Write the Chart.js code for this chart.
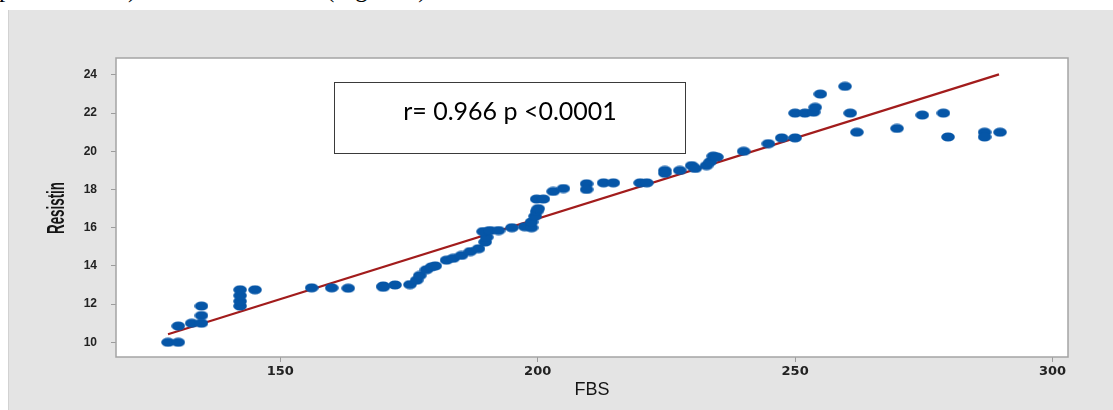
<!DOCTYPE html>
<html>
<head>
<meta charset="utf-8">
<title>Resistin vs FBS</title>
<script src="https://cdn.jsdelivr.net/npm/chart.js@4.4.1/dist/chart.umd.min.js"></script>
<style>
  html, body { margin: 0; padding: 0; background: #fff; width: 1113px; height: 410px; overflow: hidden; }
  #prev { position: absolute; left: 0; top: 0; width: 1113px; height: 10px; overflow: hidden;
          font-family: "Liberation Serif", "Times New Roman", serif; font-size: 25px; color: #000; }
  #prev span { position: absolute; top: -24px; line-height: 25px; white-space: nowrap; }
  #panel { position: absolute; left: 8px; top: 10px; width: 1105px; height: 400px; background: #e4e4e4;
           border-left: 1px solid #d2d2d2; box-sizing: border-box; }
  #wrap { position: absolute; left: 0; top: 0; width: 1113px; height: 410px; }
</style>
</head>
<body>
<div id="prev"><span style="left:-1px">pre-diabetics)</span><span style="left:326px">(Figure 4)</span></div>
<div id="panel"></div>
<div id="wrap"><canvas id="c" width="1113" height="410"></canvas></div>
<script>
// Fasting blood sugar (mg/dL) for each subject
const fbs = [
  128.2, 130.2, 130.2, 132.8, 134.7, 134.7, 134.7, 142.2, 142.2, 142.2,
  142.2, 145.1, 156.1, 160.0, 163.2, 170.0, 170.0, 172.3, 175.2, 176.5,
  177.1, 178.4, 179.4, 180.1, 182.3, 183.6, 185.2, 186.9, 188.5, 189.8,
  190.1, 189.4, 190.7, 192.4, 195.0, 197.5, 198.8, 198.8, 199.5, 199.8,
  200.1, 199.8, 201.1, 203.0, 205.0, 209.5, 209.5, 212.8, 214.7, 219.9,
  221.2, 224.7, 224.7, 227.6, 229.9, 230.6, 232.8, 233.5, 234.1, 234.8,
  240.0, 244.8, 247.4, 250.0, 250.0, 251.9, 253.6, 253.9, 254.9, 259.7,
  260.7, 262.0, 269.8, 274.7, 278.8, 279.7, 286.8, 286.8, 289.8
];
// Serum resistin for the same subjects
const resistin = [
  10.0, 10.0, 10.85, 11.0, 11.0, 11.4, 11.9, 11.9, 12.15, 12.45,
  12.75, 12.75, 12.85, 12.85, 12.83, 12.95, 12.88, 13.0, 13.02, 13.25,
  13.5, 13.8, 13.95, 14.0, 14.3, 14.4, 14.55, 14.75, 14.9, 15.25,
  15.5, 15.8, 15.85, 15.85, 16.0, 16.05, 16.0, 16.3, 16.6, 16.85,
  17.0, 17.5, 17.5, 17.9, 18.05, 18.3, 18.0, 18.35, 18.35, 18.35,
  18.35, 19.0, 18.85, 19.0, 19.25, 19.1, 19.25, 19.45, 19.75, 19.7,
  20.0, 20.4, 20.7, 20.7, 22.0, 22.0, 22.05, 22.3, 23.0, 23.4,
  22.0, 21.0, 21.2, 21.9, 22.0, 20.75, 21.0, 20.75, 21.0
];
// Least-squares fit line end points
const fitFbs = [128.2, 289.6];
const fitResistin = [10.42, 24.03];
// Axis tick values
const xTicks = [150, 200, 250, 300];
const yTicks = [10, 12, 14, 16, 18, 20, 22, 24];
const statText = 'r= 0.966 p <0.0001';

const BLUE = '#0656a7';
const RED = '#a21c1c';

// Slightly wide oval marker
function makeMarker() {
  const cv = document.createElement('canvas');
  cv.width = 14; cv.height = 10;
  const g = cv.getContext('2d');
  g.fillStyle = BLUE;
  g.beginPath();
  g.ellipse(7, 5, 6.8, 4.6, 0, 0, Math.PI * 2);
  g.fill();
  return cv;
}
const marker = makeMarker();

const framePlugin = {
  id: 'frame',
  beforeDraw(chart) {
    const { ctx, chartArea: a } = chart;
    ctx.save();
    ctx.fillStyle = '#ffffff';
    ctx.fillRect(a.left, a.top, a.right - a.left, a.bottom - a.top);
    ctx.restore();
  },
  afterDraw(chart) {
    const { ctx, chartArea: a } = chart;
    ctx.save();
    // plot frame
    ctx.strokeStyle = '#a4a4a4';
    ctx.lineWidth = 1.5;
    ctx.strokeRect(a.left, a.top, a.right - a.left, a.bottom - a.top);

    // statistics box
    ctx.fillStyle = '#ffffff';
    ctx.fillRect(334, 83, 352, 71);
    ctx.strokeStyle = '#3a3a3a';
    ctx.lineWidth = 1;
    ctx.strokeRect(334.5, 82.5, 351, 71);
    ctx.fillStyle = '#000000';
    ctx.font = '25px Lato, "Open Sans", sans-serif';
    ctx.textAlign = 'center';
    ctx.textBaseline = 'alphabetic';
    ctx.fillText(statText, 510, 120);

    // y axis title, condensed along its length
    ctx.font = 'bold 24px "Liberation Sans", Arial, sans-serif';
    const w = ctx.measureText('Resistin').width;
    ctx.translate(64, 208);
    ctx.rotate(-Math.PI / 2);
    ctx.scale(52 / w, 1);
    ctx.fillStyle = '#151515';
    ctx.textAlign = 'center';
    ctx.textBaseline = 'alphabetic';
    ctx.fillText('Resistin', 0, 0);
    ctx.restore();
  }
};

new Chart(document.getElementById('c'), {
  type: 'scatter',
  data: {
    datasets: [
      {
        label: 'Resistin',
        data: fbs.map((x, i) => ({ x, y: resistin[i] })),
        pointStyle: marker,
        pointRadius: 6,
        backgroundColor: BLUE,
        borderColor: BLUE,
        order: 1
      },
      {
        label: 'Fit',
        type: 'line',
        data: fitFbs.map((x, i) => ({ x, y: fitResistin[i] })),
        borderColor: RED,
        borderWidth: 2.2,
        pointRadius: 0,
        fill: false,
        order: 2
      }
    ]
  },
  options: {
    responsive: false,
    animation: false,
    devicePixelRatio: 1,
    events: [],
    layout: { padding: { left: 0, right: 45, top: 58, bottom: 0 } },
    plugins: { legend: { display: false }, tooltip: { enabled: false } },
    scales: {
      x: {
        type: 'linear',
        min: 118.1,
        max: 303,
        afterBuildTicks: s => { s.ticks = xTicks.map(v => ({ value: v })); },
        afterFit: s => { s.height = 53; },
        border: { display: false },
        grid: { drawOnChartArea: false, drawTicks: true, tickLength: 5, color: '#9c9c9c', lineWidth: 1 },
        ticks: {
          padding: 2,
          maxRotation: 0,
          autoSkip: false,
          color: '#222222',
          font: { family: '"DejaVu Sans", sans-serif', size: 13, weight: 'bold' }
        },
        title: {
          display: true,
          text: 'FBS',
          color: '#151515',
          font: { family: '"Liberation Sans", Arial, sans-serif', size: 18 },
          padding: { top: 0, bottom: 9 }
        }
      },
      y: {
        type: 'linear',
        min: 9.23,
        max: 24.885,
        afterBuildTicks: s => { s.ticks = yTicks.map(v => ({ value: v })); },
        afterFit: s => { s.width = 116; },
        border: { display: false },
        grid: { drawOnChartArea: false, drawTicks: true, tickLength: 5, color: '#9c9c9c', lineWidth: 1 },
        ticks: {
          padding: 14,
          autoSkip: false,
          color: '#222222',
          font: { family: '"Liberation Sans", Arial, sans-serif', size: 12, weight: 'bold' }
        }
      }
    }
  },
  plugins: [framePlugin]
});
</script>
</body>
</html>
